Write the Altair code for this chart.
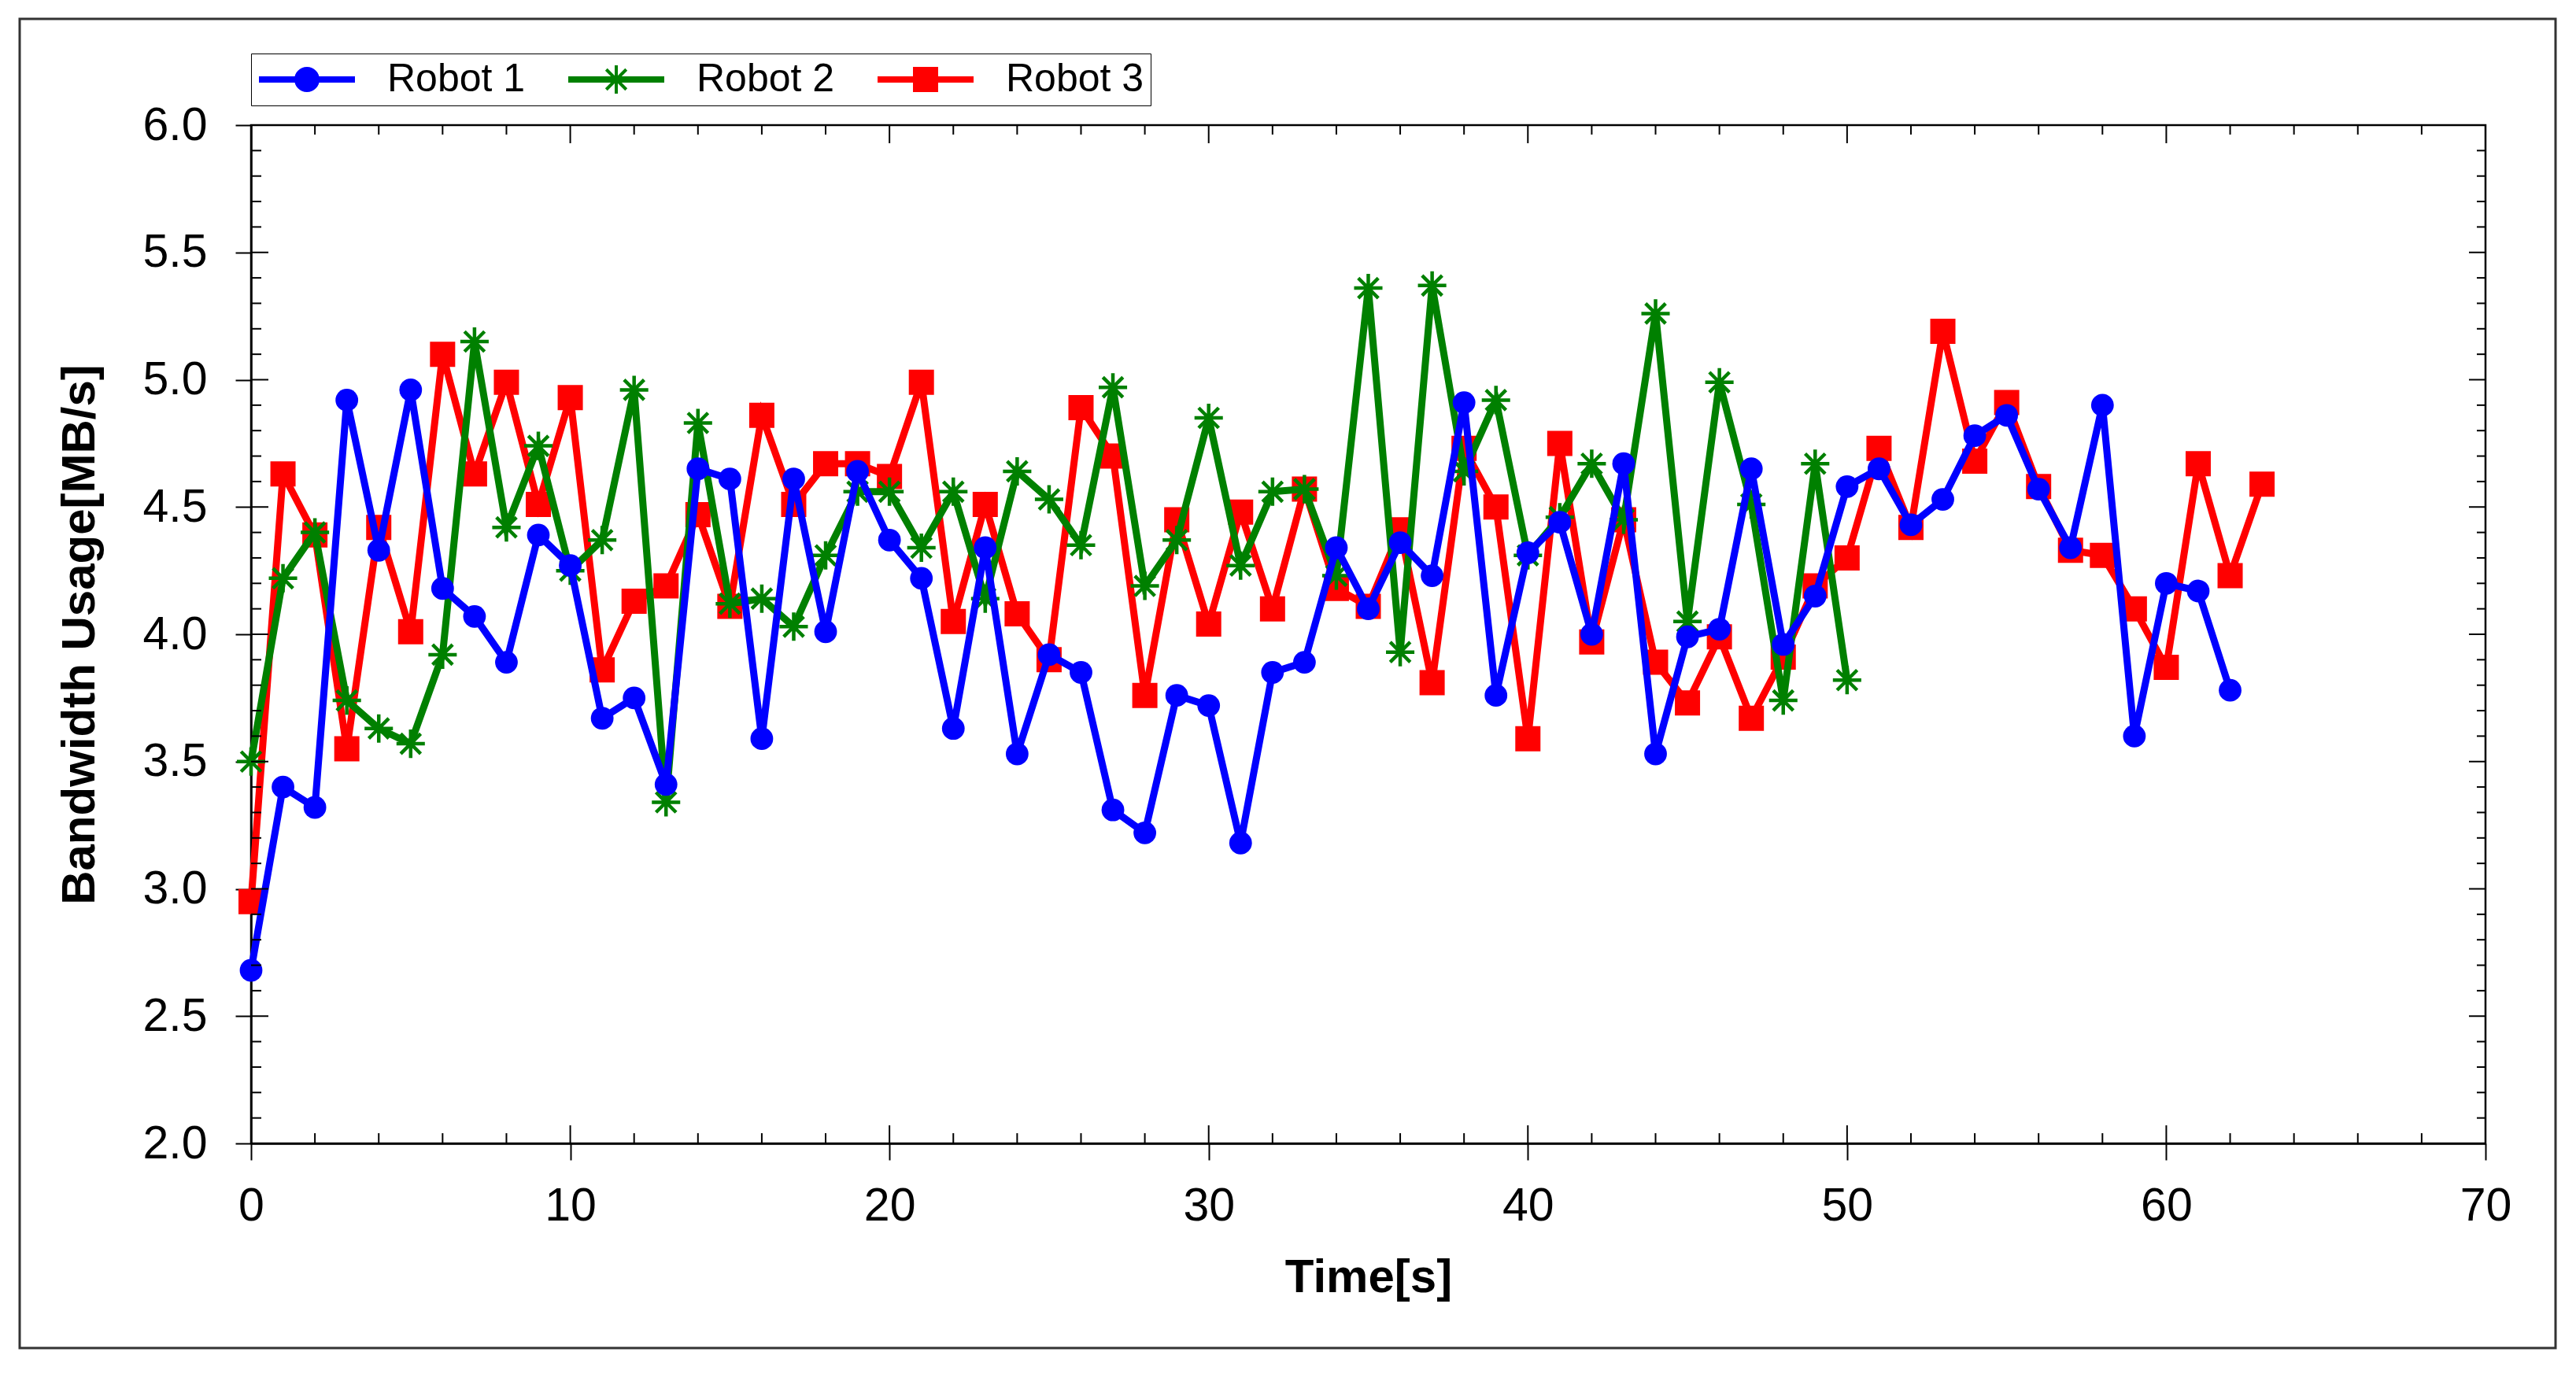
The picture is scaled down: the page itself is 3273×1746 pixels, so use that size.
import altair as alt
import pandas as pd

# ---------------- data ----------------
robot1 = [2.68, 3.40, 3.32, 4.92, 4.33, 4.96, 4.18, 4.07, 3.89, 4.39,
          4.27, 3.67, 3.75, 3.41, 4.65, 4.61, 3.59, 4.61, 4.01, 4.64,
          4.37, 4.22, 3.63, 4.34, 3.53, 3.92, 3.85, 3.31, 3.22, 3.76,
          3.72, 3.18, 3.85, 3.89, 4.34, 4.10, 4.36, 4.23, 4.91, 3.76,
          4.32, 4.44, 4.00, 4.67, 3.53, 3.99, 4.02, 4.65, 3.96, 4.15,
          4.58, 4.65, 4.43, 4.53, 4.78, 4.86, 4.57, 4.34, 4.90, 3.60,
          4.20, 4.17, 3.78]
robot2 = [3.50, 4.22, 4.40, 3.74, 3.63, 3.57, 3.92, 5.15, 4.42, 4.74,
          4.25, 4.37, 4.96, 3.34, 4.83, 4.12, 4.14, 4.03, 4.31, 4.56,
          4.56, 4.34, 4.56, 4.14, 4.64, 4.53, 4.35, 4.97, 4.19, 4.37,
          4.85, 4.27, 4.56, 4.57, 4.23, 5.36, 3.93, 5.37, 4.64, 4.92,
          4.31, 4.46, 4.67, 4.45, 5.26, 4.05, 4.99, 4.51, 3.74, 4.67,
          3.82]
robot3 = [2.95, 4.63, 4.39, 3.55, 4.42, 4.01, 5.10, 4.63, 4.99, 4.51,
          4.93, 3.86, 4.13, 4.19, 4.47, 4.11, 4.86, 4.51, 4.67, 4.67,
          4.62, 4.99, 4.05, 4.51, 4.08, 3.90, 4.89, 4.70, 3.76, 4.45,
          4.04, 4.48, 4.10, 4.57, 4.18, 4.11, 4.41, 3.81, 4.73, 4.50,
          3.59, 4.75, 3.97, 4.45, 3.89, 3.73, 3.99, 3.67, 3.91, 4.19,
          4.30, 4.73, 4.42, 5.19, 4.68, 4.91, 4.58, 4.33, 4.31, 4.10,
          3.87, 4.67, 4.23, 4.59]

names = ["Robot 1", "Robot 2", "Robot 3"]
colors = ["#0000FF", "#008000", "#FF0000"]

x_major = [0, 10, 20, 30, 40, 50, 60, 70]
x_minor = [v for v in range(0, 71, 2) if v % 10 != 0]
y_major = [2.0, 2.5, 3.0, 3.5, 4.0, 4.5, 5.0, 5.5, 6.0]
y_minor = [round(2.0 + 0.1 * i, 1) for i in range(41)
           if round((2.0 + 0.1 * i) * 10) % 5 != 0]

W, H = 2839, 1294
FONT = "Liberation Sans"

def series_df(vals):
    return pd.DataFrame({"t": list(range(len(vals))), "v": vals})

xs = alt.Scale(domain=[0, 70], nice=False, zero=False)
ys = alt.Scale(domain=[2, 6], nice=False, zero=False)

x_axis = alt.Axis(values=x_major, format="d", tickSize=21, labelPadding=29,
                  labelFlush=False, labelOverlap=False,
                  title="Time[s]", titleY=188, titleBaseline="alphabetic")
y_axis = alt.Axis(values=y_major, format=".1f", tickSize=20, labelPadding=36,
                  labelFlush=False, labelOverlap=False,
                  title="Bandwidth Usage[MB/s]", titleX=-200, titleY=H / 2,
                  titleAngle=270, titleBaseline="alphabetic", titleAlign="center")

X = alt.X("t:Q", scale=xs, axis=x_axis)
Y = alt.Y("v:Q", scale=ys, axis=y_axis)

star = "M-1,0L1,0M0,-1L0,1M-0.707,-0.707L0.707,0.707M-0.707,0.707L0.707,-0.707"

def base(vals):
    return alt.Chart(series_df(vals)).encode(x=X, y=Y)

red_line = base(robot3).mark_line(color=colors[2], strokeWidth=9)
red_pts = base(robot3).mark_square(color=colors[2], size=1024, opacity=1)
green_line = base(robot2).mark_line(color=colors[1], strokeWidth=9)
green_pts = base(robot2).mark_point(shape=star, color=colors[1], size=1300,
                                    strokeWidth=4.5, filled=False, opacity=1)
blue_line = base(robot1).mark_line(color=colors[0], strokeWidth=9)
blue_pts = base(robot1).mark_circle(color=colors[0], size=830, opacity=1)

# legend symbols: line + marker
bar = "M-3.05,-0.2H3.05V0.2H-3.05Z"
circ = "M-0.8,0A0.8,0.8 0 1,1 0.8,0A0.8,0.8 0 1,1 -0.8,0Z"
sq = "M-0.8,-0.8H0.8V0.8H-0.8Z"
stsym = ("M-0.1,-0.9H0.1V0.9H-0.1Z"
         "M-0.565,-0.707L0.707,0.565L0.565,0.707L-0.707,-0.565Z"
         "M-0.707,0.565L0.565,-0.707L0.707,-0.565L-0.565,0.707Z")
leg_shapes = [bar + circ, bar + stsym, bar + sq]

leg = alt.Legend(title=None, orient="none", legendX=0, legendY=-91,
                 direction="horizontal", columns=3, symbolSize=1600,
                 symbolOffset=38, symbolStrokeWidth=0, symbolOpacity=1,
                 labelFont=FONT, labelFontSize=50, labelColor="black",
                 labelOffset=77, columnPadding=52, padding=8,
                 strokeColor="black", fillColor="white", labelLimit=400)
legend_layer = alt.Chart(pd.DataFrame({"Robot": names})).mark_point(
    filled=True, opacity=1, clip=True).encode(
    x=alt.value(0), y=alt.value(-3000),
    shape=alt.Shape("Robot:N", scale=alt.Scale(domain=names, range=leg_shapes), legend=leg),
    color=alt.Color("Robot:N", scale=alt.Scale(domain=names, range=colors), legend=leg),
)

# inner tick marks
def vrule(vals, y0, y1):
    return alt.Chart(pd.DataFrame({"t": vals})).mark_rule(color="black", strokeWidth=2).encode(
        x=X, y=alt.value(y0), y2=alt.value(y1))

def hrule(vals, x0, x1):
    return alt.Chart(pd.DataFrame({"v": vals})).mark_rule(color="black", strokeWidth=2).encode(
        y=Y, x=alt.value(x0), x2=alt.value(x1))

ticks = [
    vrule(x_major, H - 23, H), vrule(x_minor, H - 13, H),
    vrule(x_major, 0, 23), vrule(x_minor, 0, 12),
    hrule(y_major, 0, 22), hrule(y_minor, 0, 13),
    hrule(y_major, W - 21, W), hrule(y_minor, W - 11, W),
]

frame = alt.Chart(pd.DataFrame({"a": [0]})).mark_rect(
    fill=None, stroke="#333333", strokeWidth=3).encode(
    x=alt.value(-294), x2=alt.value(2928), y=alt.value(-135), y2=alt.value(1554))

chart = alt.layer(
    frame, red_line, red_pts, green_line, green_pts, blue_line, blue_pts,
    *ticks, legend_layer,
).properties(
    width=W, height=H,
    autosize=alt.AutoSizeParams(type="none"),
    padding={"left": 311, "top": 151, "right": 95, "bottom": 262},
    background="white",
).configure_view(
    stroke="black", strokeWidth=2.5
).configure_axis(
    grid=False, domainColor="black", domainWidth=2.5, tickColor="black",
    tickWidth=2, labelFont=FONT, labelFontSize=59, labelColor="black",
    titleFont=FONT, titleFontSize=60, titleFontWeight="bold", titleColor="black",
)

chart.save("out.html", embed_options={"renderer": "svg", "actions": False})
